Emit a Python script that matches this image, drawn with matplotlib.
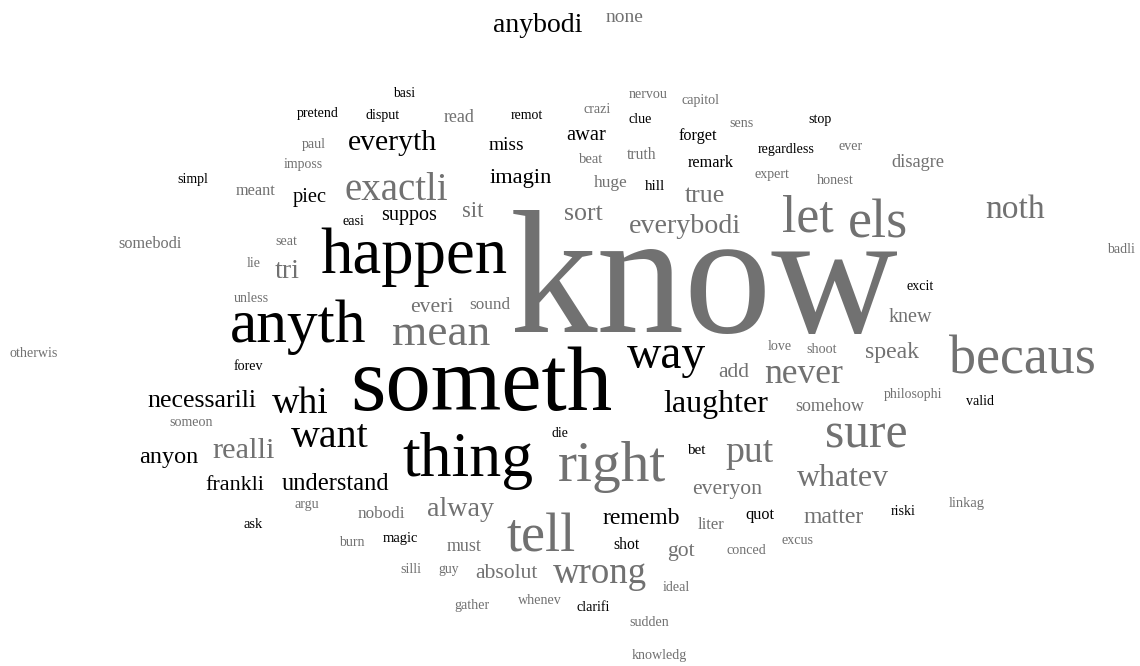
import matplotlib
matplotlib.use("Agg")
import matplotlib.pyplot as plt

# word cloud data: stemmed words, relative size (px em), colour group
words = ["know", "someth", "happen", "anyth", "thing", "right", "tell", "becaus", "sure",
         "let", "els", "noth", "mean", "way", "exactli", "whi", "want", "put", "wrong",
         "whatev", "never", "laughter", "everyth", "necessarili", "realli", "anyon",
         "frankli", "understand", "alway", "rememb", "absolut", "sort", "everybodi",
         "true", "imagin", "miss", "awar", "sit", "suppos", "tri", "speak", "knew",
         "everyon", "matter", "got", "add", "everi", "sound", "anybodi", "none",
         "disagre", "hill", "huge", "truth", "beat", "remark", "forget", "clue", "crazi",
         "nervou", "capitol", "sens", "remot", "read", "basi", "disput", "pretend", "paul",
         "imposs", "simpl", "meant", "piec", "easi", "stop", "regardless", "ever", "expert",
         "honest", "somebodi", "seat", "lie", "unless", "otherwis", "forev", "someon",
         "argu", "ask", "nobodi", "burn", "magic", "must", "silli", "guy", "gather",
         "whenev", "clarifi", "sudden", "knowledg", "ideal", "shot", "liter", "bet", "quot",
         "conced", "excus", "riski", "linkag", "somehow", "philosophi", "valid", "love",
         "shoot", "excit", "badli", "die"]
sizes = [162, 84, 60, 57, 59, 53, 50, 50, 46,
         48, 50, 31, 42, 44, 36, 35, 37, 35, 34,
         29.5, 33, 29.6, 27.5, 24, 28, 22.5,
         20.5, 22.7, 26, 22, 20, 24, 26,
         24, 20.7, 18, 19, 21, 18.6, 26, 22, 18.6,
         20, 22, 20, 20, 20, 16, 25.7, 18,
         17, 14, 16, 14.6, 13.5, 15, 15, 13, 13,
         13, 13, 13, 12.8, 16.6, 12.5, 13, 13, 13,
         12.7, 13, 15, 19, 13, 13, 13, 13, 13,
         13, 15, 13, 13, 13, 13, 13, 13,
         13, 13.5, 16, 13, 13.4, 16.5, 13, 12.6, 13,
         13, 13, 13, 13, 13, 14.6, 15.4, 14, 15,
         13, 13, 13, 13.4, 16.7, 12.7, 13, 13,
         13, 13, 13, 12.7]
groups = ["g", "k", "k", "k", "k", "g", "g", "g", "g",
          "g", "g", "g", "g", "k", "g", "k", "k", "g", "g",
          "g", "g", "k", "k", "k", "g", "k",
          "k", "k", "g", "k", "g", "g", "g",
          "g", "k", "k", "k", "g", "k", "g", "g", "g",
          "g", "g", "g", "g", "g", "g", "k", "g",
          "g", "k", "g", "g", "g", "k", "k", "k", "g",
          "g", "g", "g", "k", "g", "k", "k", "k", "g",
          "g", "k", "g", "k", "k", "k", "k", "g", "g",
          "g", "g", "g", "g", "g", "g", "k", "g",
          "g", "k", "g", "g", "k", "g", "g", "g", "g",
          "g", "k", "g", "g", "g", "k", "g", "k", "k",
          "g", "g", "k", "g", "g", "g", "k", "g",
          "g", "k", "g", "k"]

# layout: word centre x and baseline y in pixel space of the cloud
xs = [704, 481, 414, 298, 468, 612, 541, 1022, 866,
      808, 878, 1015, 441, 666, 396, 300, 330, 750, 600,
      843, 804, 716, 392, 202, 244, 169,
      235, 335, 460, 641, 506, 583, 685,
      705, 521, 506, 586, 473, 409, 287, 892, 910,
      727, 834, 681, 734, 432, 490, 538, 625,
      918, 655, 611, 642, 591, 711, 698, 640, 597,
      648, 701, 742, 527, 459, 404, 383, 318, 314,
      303, 193, 256, 310, 353, 820, 786, 851, 772,
      835, 150, 286, 254, 251, 34, 248, 191,
      307, 253, 381, 352, 400, 464, 411, 449, 472,
      540, 593, 649, 659, 676, 626, 711, 696, 760,
      746, 798, 903, 967, 830, 913, 980, 780,
      822, 920, 1121, 560]
ys = [332, 410, 273, 342, 476, 481, 551, 373, 448,
      232, 238, 218, 345, 368, 200, 413, 447, 462, 583,
      486, 383, 412, 150, 407, 458, 463,
      490, 490, 516, 524, 578, 220, 233,
      202, 183, 150, 140, 217, 220, 278, 358, 322,
      494, 523, 556, 377, 312, 309, 32, 22,
      167, 190, 187, 159, 163, 167, 140, 123, 113,
      98, 104, 127, 119, 122, 97, 119, 117, 148,
      168, 183, 195, 202, 225, 123, 153, 150, 178,
      184, 248, 245, 267, 302, 357, 370, 426,
      508, 528, 518, 546, 542, 551, 573, 573, 609,
      604, 611, 626, 659, 591, 549, 529, 454, 519,
      554, 544, 515, 507, 411, 398, 405, 350,
      353, 290, 253, 437]

colours = {"k": "#000000", "g": "#717171"}
scale = 1.08  # Liberation Serif is a little narrower than the original face

fig = plt.figure(figsize=(11.4, 6.66), dpi=100)
ax = fig.add_axes([0, 0, 1, 1])
ax.set_xlim(0, 1140)
ax.set_ylim(666, 0)
ax.axis("off")

for w, s, g, x, y in zip(words, sizes, groups, xs, ys):
    ax.text(x, y, w, fontsize=s * 0.72 * scale, color=colours[g],
            family="Liberation Serif", ha="center", va="baseline")

fig.savefig("out.png", dpi=100, facecolor="white")
